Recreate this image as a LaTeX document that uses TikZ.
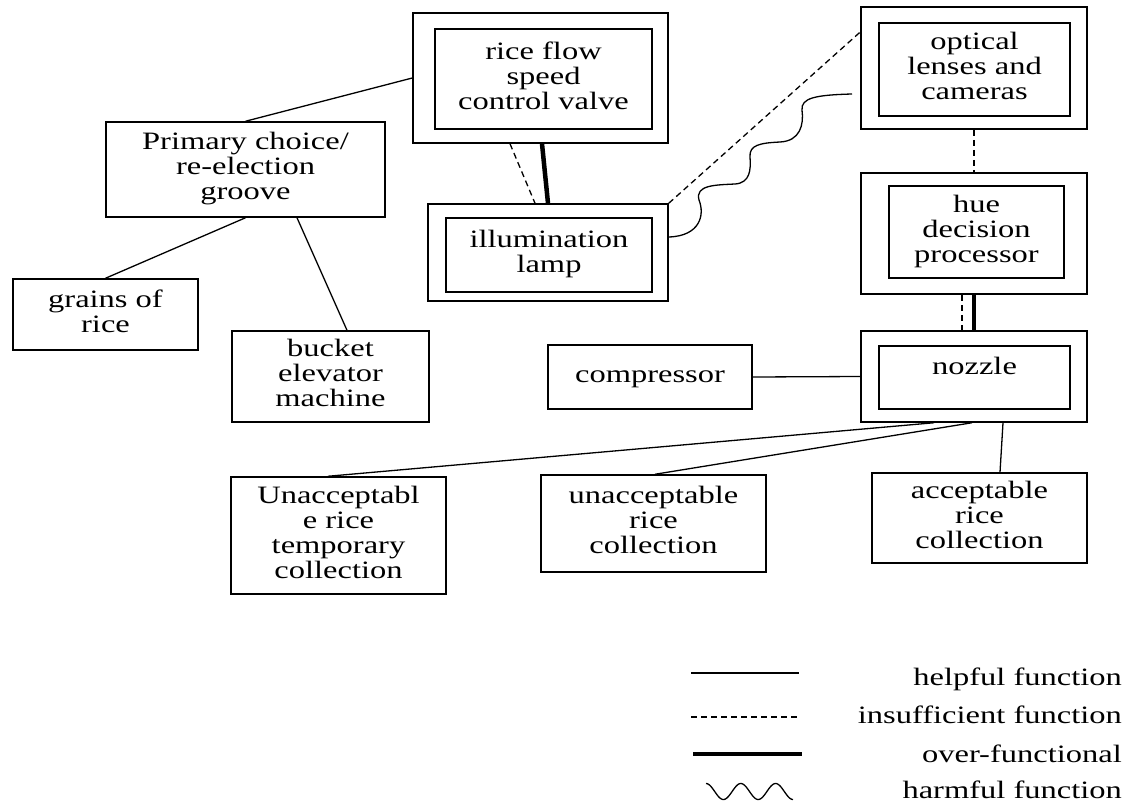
\documentclass[tikz,border=0pt]{standalone}
\usepackage{fontspec}
\setmainfont{Liberation Serif}
\usetikzlibrary{calc}
% wide-set lines of text, centred one above the other
\newcommand{\wtxt}[1]{\scalebox{1.3}[1]{\begin{tabular}{@{}c@{}}#1\end{tabular}}}
\begin{document}
\begin{tikzpicture}[x=1pt,y=-1pt,
  every node/.style={font=\fontsize{25}{25}\selectfont},
  box/.style={draw, line width=1.5pt, align=center, inner sep=0pt},
  dim/.style 2 args={minimum width=#1pt, minimum height=#2pt},
  helpful/.style={line width=1.3pt},
  insuff/.style={line width=1.3pt, dash pattern=on 6pt off 4pt},
  over/.style={line width=4.5pt},
  harm/.style={line width=1.3pt},
  legtext/.style={anchor=base east, inner sep=0pt},
]
\useasboundingbox (0,0) rectangle (1129,803);

% double-framed components
\node[box, dim={255}{130}] (rvO) at (540.5,78) {};
\node[box, dim={217}{100}] (rv) at (543.5,79) {\wtxt{rice flow\\speed\\control valve}};
\node[box, dim={240}{97}] (ilO) at (548,252.5) {};
\node[box, dim={206}{74}] (il) at (549,255) {\wtxt{illumination\\lamp}};
\node[box, dim={226}{122}] (opO) at (974,68) {};
\node[box, dim={191}{93}] (op) at (974.5,69.5) {\wtxt{optical\\lenses and\\cameras}};
\node[box, dim={226}{121}] (hueO) at (974,233.5) {};
\node[box, dim={175}{92}] (hue) at (976.5,232) {\wtxt{hue\\decision\\processor}};
\node[box, dim={226}{91}] (nzO) at (974,376.5) {};
\node[box, dim={191}{63}, text height=18pt, text depth=24pt] (nz) at (974.5,377.5) {\scalebox{1.3}[1]{nozzle}};

% single-framed components
\node[box, dim={279}{95}] (pc) at (245.5,169.5) {\wtxt{Primary choice/\\re-election\\groove}};
\node[box, dim={185}{71}] (gr) at (105.5,314.5) {\wtxt{grains of\\rice}};
\node[box, dim={197}{91}] (bk) at (330.5,376.5) {\wtxt{bucket\\elevator\\machine}};
\node[box, dim={204}{64}] (cp) at (650,377) {\wtxt{compressor}};
\node[box, dim={215}{117}] (ut) at (338.5,535.5) {\wtxt{Unacceptabl\\e rice\\temporary\\collection}};
\node[box, dim={225}{97}] (uc) at (653.5,523.5) {\wtxt{unacceptable\\rice\\collection}};
\node[box, dim={215}{90}] (ac) at (979.5,518) {\wtxt{acceptable\\rice\\collection}};

% helpful functions
\draw[helpful] (pc.north) -- (rvO.west);
\draw[helpful] (pc.south) -- (gr.north);
\draw[helpful] ($(pc.south)+(51.5,0)$) -- ($(bk.north)+(16.5,0)$);
\draw[helpful] (cp.east) -- (nzO.west);
\draw[helpful] ($(nzO.south)+(-40,0)$) -- ($(ut.north)+(-10.5,0)$);
\draw[helpful] ($(nzO.south)+(-2,0)$) -- ($(uc.north)+(1.5,0)$);
\draw[helpful] ($(nzO.south)+(29,0)$) -- ($(ac.north)+(20.5,0)$);

% insufficient functions
\draw[insuff] ($(rvO.south)+(-30.5,0)$) -- ($(ilO.north)+(-13,0)$);
\draw[insuff] (ilO.north east) -- ($(opO.west)+(0,-36)$);
\draw[insuff] (opO.south) -- (hueO.north);
\draw[insuff] ($(hueO.south)+(-12,0)$) -- ($(nzO.north)+(-12,0)$);

% over-functional
\draw[over] ($(rvO.south)+(1.5,0)$) -- (ilO.north);
\draw[over] (hueO.south) -- (nzO.north);

% harmful function
\coordinate (wEnd) at (852,94);
\draw[harm] ($(ilO.east)+(0,-15.5)$) .. controls (700,236) and (705,215) .. (699,200)
  .. controls (695,185) and (715,185) .. (735,184)
  .. controls (750,183) and (751,170) .. (750,157)
  .. controls (749,145) and (760,143) .. (780,142)
  .. controls (800,141) and (804,125) .. (802,110)
  .. controls (801,98) and (815,95) .. (wEnd);

% legend
\coordinate (l1a) at (691,673); \coordinate (l1b) at (799,673);
\coordinate (l2a) at (691,717); \coordinate (l2b) at (799,717);
\coordinate (l3a) at (693,754); \coordinate (l3b) at (802,754);
\draw[helpful] (l1a) -- (l1b);
\draw[insuff] (l2a) -- (l2b);
\draw[over] (l3a) -- (l3b);
\draw[harm] plot[domain=0:87, samples=90, smooth] ({706+\x},{791.5-8*cos(10.345*\x)});
\node[legtext] (t1) at (1122,685) {\scalebox{1.3}[1]{helpful function}};
\node[legtext] (t2) at (1122,723) {\scalebox{1.3}[1]{insufficient function}};
\node[legtext] (t3) at (1122,762) {\scalebox{1.3}[1]{over-functional}};
\node[legtext] (t4) at (1122,798) {\scalebox{1.3}[1]{harmful function}};
\end{tikzpicture}
\end{document}
